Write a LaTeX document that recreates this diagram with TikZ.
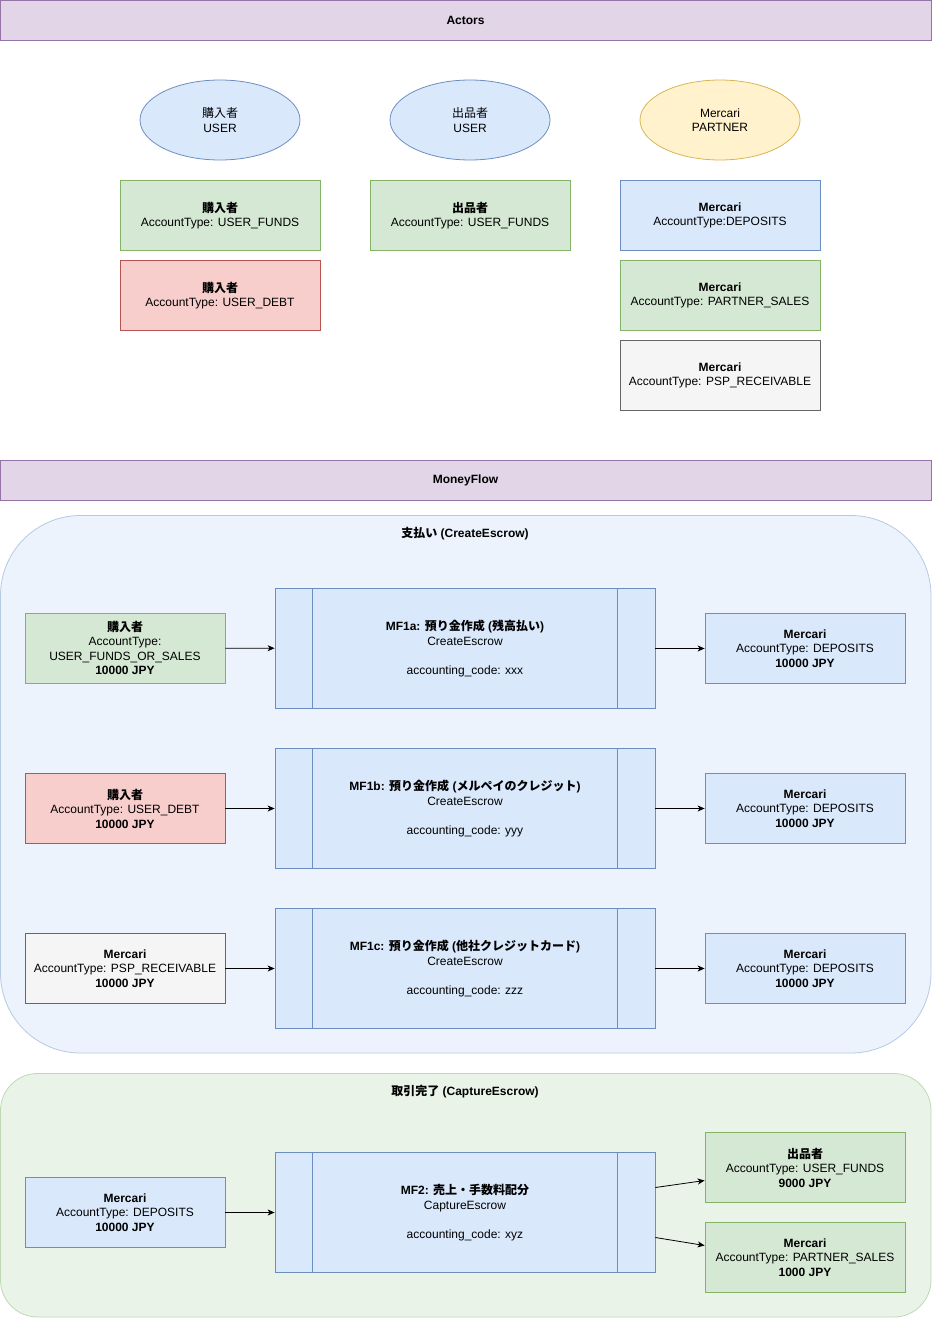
\documentclass[tikz,border=0pt]{standalone}
\usepackage{fontspec}
\setmainfont{Liberation Sans}
\newfontfamily\jpfont{Noto Sans CJK JP}
\newcommand\JP[1]{{\jpfont #1}}
\usetikzlibrary{shapes.geometric,arrows.meta}
\definecolor{hdrF}{HTML}{E1D5E7}\definecolor{hdrS}{HTML}{9673A6}
\definecolor{blueF}{HTML}{DAE8FC}\definecolor{blueS}{HTML}{6C8EBF}
\definecolor{greenF}{HTML}{D5E8D4}\definecolor{greenS}{HTML}{82B366}
\definecolor{redF}{HTML}{F8CECC}\definecolor{redS}{HTML}{B85450}
\definecolor{yelF}{HTML}{FFF2CC}\definecolor{yelS}{HTML}{D6B656}
\definecolor{grayF}{HTML}{F5F5F5}\definecolor{grayS}{HTML}{666666}
\definecolor{g1F}{HTML}{ECF3FD}\definecolor{g1S}{HTML}{B6C9E4}
\definecolor{g2F}{HTML}{E9F3E8}\definecolor{g2S}{HTML}{BFD9B2}
\tikzset{
  every node/.style={font=\fontsize{12}{14.5}\selectfont, inner sep=0pt, align=center},
  hdr/.style={draw=hdrS, fill=hdrF, line width=1pt, minimum width=931pt, minimum height=40pt, font=\fontsize{12}{14.5}\selectfont\bfseries},
  actor/.style={ellipse, draw=#1S, fill=#1F, line width=0.8pt, minimum width=160pt, minimum height=80pt},
  acct/.style={rectangle, draw=#1S, fill=#1F, line width=0.8pt, minimum width=200pt, minimum height=70pt},
  proc/.style={rectangle, draw=blueS, fill=blueF, line width=0.8pt, minimum width=380pt, minimum height=120pt},
  grp/.style={draw=#1S, fill=#1F, line width=0.8pt},
  flow/.style={-{Stealth[length=7pt,width=6pt,inset=2pt]}, line width=0.8pt, black},
}
\newcommand\procbars[1]{%
  \draw[blueS, line width=0.8pt] ([xshift=38pt]#1.north west) -- ([xshift=38pt]#1.south west);
  \draw[blueS, line width=0.8pt] ([xshift=-38pt]#1.north east) -- ([xshift=-38pt]#1.south east);}
\begin{document}
\begin{tikzpicture}[x=1pt,y=-1pt]
\useasboundingbox (0,0) rectangle (932,1319);
% Actors
\node[hdr] (hA) at (465.5,20.5) {Actors};
\node[actor=blue] (e1) at (220,120) {\JP{購入者}\\USER};
\node[actor=blue] (e2) at (470,120) {\JP{出品者}\\USER};
\node[actor=yel] (e3) at (720,120) {Mercari\\PARTNER};
\node[acct=green] (a1) at (220,215.5) {\textbf{\JP{購入者}}\\AccountType: USER\_FUNDS};
\node[acct=red] (a2) at (220,295.5) {\textbf{\JP{購入者}}\\AccountType: USER\_DEBT};
\node[acct=green] (a3) at (470,215.5) {\textbf{\JP{出品者}}\\AccountType: USER\_FUNDS};
\node[acct=blue] (a4) at (720,215.5) {\textbf{Mercari}\\AccountType:DEPOSITS};
\node[acct=green] (a5) at (720,295.5) {\textbf{Mercari}\\AccountType: PARTNER\_SALES};
\node[acct=gray] (a6) at (720,375.5) {\textbf{Mercari}\\AccountType: PSP\_RECEIVABLE};
% MoneyFlow
\node[hdr] (hM) at (465.5,480.5) {MoneyFlow};
\draw[grp=g1, rounded corners=80pt] (0.5,515.5) rectangle (931,1053);
\node[font=\fontsize{12}{14.5}\selectfont\bfseries] (t1) at (465,534) {\JP{支払い} (CreateEscrow)};
\draw[grp=g2, rounded corners=37pt] (0.5,1073.5) rectangle (931,1317);
\node[font=\fontsize{12}{14.5}\selectfont\bfseries] (t2) at (465,1092) {\JP{取引完了} (CaptureEscrow)};
% Row 1
\node[acct=green] (l1) at (125,648) {\textbf{\JP{購入者}}\\AccountType:\\USER\_FUNDS\_OR\_SALES\\\textbf{10000 JPY}};
\node[proc] (p1) at (465,648.5) {\textbf{MF1a: \JP{預り金作成} (\JP{残高払い})}\\CreateEscrow\\[14.5pt]accounting\_code: xxx};
\procbars{p1}
\node[acct=blue] (r1) at (805,648.5) {\textbf{Mercari}\\AccountType: DEPOSITS\\\textbf{10000 JPY}};
% Row 2
\node[acct=red] (l2) at (125,808.5) {\textbf{\JP{購入者}}\\AccountType: USER\_DEBT\\\textbf{10000 JPY}};
\node[proc] (p2) at (465,808.5) {\textbf{MF1b: \JP{預り金作成} (\JP{メルペイのクレジット})}\\CreateEscrow\\[14.5pt]accounting\_code: yyy};
\procbars{p2}
\node[acct=blue] (r2) at (805,808.5) {\textbf{Mercari}\\AccountType: DEPOSITS\\\textbf{10000 JPY}};
% Row 3
\node[acct=gray] (l3) at (125,968.5) {\textbf{Mercari}\\AccountType: PSP\_RECEIVABLE\\\textbf{10000 JPY}};
\node[proc] (p3) at (465,968.5) {\textbf{MF1c: \JP{預り金作成} (\JP{他社クレジットカード})}\\CreateEscrow\\[14.5pt]accounting\_code: zzz};
\procbars{p3}
\node[acct=blue] (r3) at (805,968.5) {\textbf{Mercari}\\AccountType: DEPOSITS\\\textbf{10000 JPY}};
% Row 4
\node[acct=blue] (l4) at (125,1212.5) {\textbf{Mercari}\\AccountType: DEPOSITS\\\textbf{10000 JPY}};
\node[proc] (p4) at (465,1212.5) {\textbf{MF2: \JP{売上・手数料配分}}\\CaptureEscrow\\[14.5pt]accounting\_code: xyz};
\procbars{p4}
\node[acct=green] (r4) at (805,1167.5) {\textbf{\JP{出品者}}\\AccountType: USER\_FUNDS\\\textbf{9000 JPY}};
\node[acct=green] (r5) at (805,1257.5) {\textbf{Mercari}\\AccountType: PARTNER\_SALES\\\textbf{1000 JPY}};
% arrows
\draw[flow] (l1) -- (p1); \draw[flow] (p1) -- (r1);
\draw[flow] (l2) -- (p2); \draw[flow] (p2) -- (r2);
\draw[flow] (l3) -- (p3); \draw[flow] (p3) -- (r3);
\draw[flow] (l4) -- (p4);
\draw[flow] ([yshift=25pt]p4.east) -- ([yshift=-13pt]r4.west);
\draw[flow] ([yshift=-25pt]p4.east) -- ([yshift=12pt]r5.west);
\end{tikzpicture}
\end{document}
